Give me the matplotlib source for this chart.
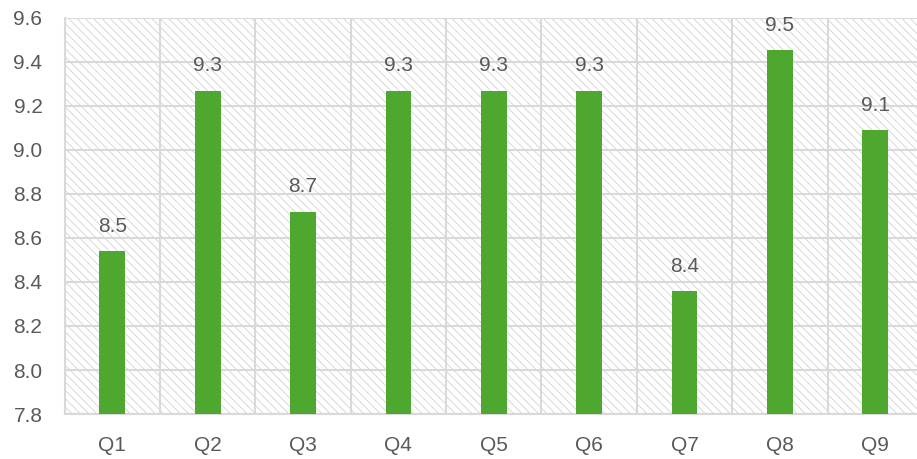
import matplotlib
matplotlib.use("Agg")
import matplotlib.pyplot as plt
from matplotlib.patches import Rectangle
import numpy as np

categories = ["Q1", "Q2", "Q3", "Q4", "Q5", "Q6", "Q7", "Q8", "Q9"]
values = [8.54, 9.27, 8.72, 9.27, 9.27, 9.27, 8.36, 9.455, 9.09]
y_ticks = [7.8, 8.0, 8.2, 8.4, 8.6, 8.8, 9.0, 9.2, 9.4, 9.6]

plt.rcParams['font.family'] = ['Liberation Sans', 'DejaVu Sans']
plt.rcParams['hatch.linewidth'] = 0.6

text_color = '#595959'
grid_color = '#d9d9d9'
bar_color = '#4EA72E'

fig = plt.figure(figsize=(9.17, 4.59), dpi=100)
ax = fig.add_axes([0.0705, 0.098, 0.936, 0.863])

x = np.arange(len(categories))
ax.set_xlim(-0.5, len(categories) - 0.5)
ax.set_ylim(y_ticks[0], y_ticks[-1])

bg = Rectangle((0, 0), 1, 1, transform=ax.transAxes, facecolor='white',
               edgecolor='#d2d2d2', hatch='\\\\\\\\', lw=0, zorder=0)
ax.add_patch(bg)

bars = ax.bar(x, values, width=0.27, color=bar_color, zorder=3)

for xi, v in zip(x, values):
    ax.annotate(f"{v:.1f}", (xi, v), xytext=(0, 11), textcoords='offset points',
                ha='center', va='bottom', fontsize=15, color=text_color, zorder=4)

ax.set_yticks(y_ticks)
ax.set_yticklabels([f"{t:.1f}" for t in y_ticks])
ax.set_xticks(x)
ax.set_xticklabels(categories)
ax.set_xticks(np.arange(-0.5, len(categories), 1.0), minor=True)

ax.grid(True, axis='y', which='major', color=grid_color, lw=1.5, zorder=1)
ax.grid(True, axis='x', which='minor', color=grid_color, lw=1.5, zorder=1)
ax.grid(False, axis='x', which='major')
ax.set_axisbelow(True)

ax.tick_params(axis='both', which='both', length=0, colors=text_color, labelsize=15)
ax.tick_params(axis='y', pad=16)
ax.tick_params(axis='x', pad=16)

for s in ['top', 'right']:
    ax.spines[s].set_visible(False)
for s in ['left', 'bottom']:
    ax.spines[s].set_color(grid_color)
    ax.spines[s].set_linewidth(1.5)

fig.savefig("out.png", dpi=100)
